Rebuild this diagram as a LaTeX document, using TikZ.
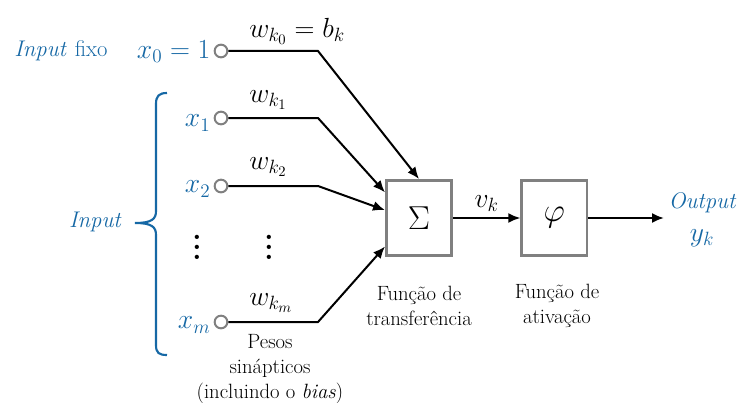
\documentclass[tikz,border=0pt]{standalone}
\usepackage{fontspec}
\usetikzlibrary{positioning,arrows.meta}
\definecolor{inblue}{RGB}{22,104,165}
\definecolor{boxgray}{RGB}{128,128,128}
\newcommand{\tallvdots}{\vbox{\baselineskip=7.5pt\lineskiplimit=0pt\hbox{.}\hbox{.}\hbox{.}}}

\begin{document}
\begin{tikzpicture}[
    x=0.75pt, y=-0.75pt,
    box/.style={draw=boxgray, line width=2pt, minimum width=49pt, minimum height=56.5pt,
                inner sep=0pt, font=\fontsize{26}{28}\selectfont},
    inpin/.style={circle, draw=boxgray, line width=1.5pt, fill=white, minimum size=9.5pt, inner sep=0pt},
    wire/.style={line width=1.5pt},
    ar/.style={wire, -{Latex[length=9pt,width=7.5pt]}},
    xlbl/.style={text=inblue, anchor=east, inner sep=1pt, font=\fontsize{21}{24}\selectfont},
    wlbl/.style={anchor=west, inner sep=0pt, font=\fontsize{21}{24}\selectfont},
    note/.style={align=center, inner sep=0pt, font=\fontsize{15.5}{18.5}\selectfont},
    bluetxt/.style={text=inblue, inner sep=0pt, font=\fontsize{17}{20}\selectfont},
    dotsym/.style={inner sep=0pt, font=\fontsize{22}{22}\bfseries},
]
\useasboundingbox (0,0) rectangle (739,403);

% Processing blocks.
\node[box]                      (sum) at (419,218) {$\Sigma$};
\node[box, right=50.5pt of sum] (phi)              {$\varphi$};
\coordinate (out) at (664,218);

% Inputs.
\node[inpin] (in0) at (221,51)  {};
\node[inpin] (in1) at (221,118) {};
\node[inpin] (in2) at (221,186) {};
\node[inpin] (inm) at (221,322) {};
\coordinate (k0) at (318,51);
\coordinate (k1) at (318,118);
\coordinate (k2) at (318,186);
\coordinate (km) at (318,322);

\node[xlbl] (x0lbl) at (212,52)  {$x_0 = 1$};
\node[xlbl] (x1lbl) at (212,123) {$x_1$};
\node[xlbl] (x2lbl) at (212,189) {$x_2$};
\node[xlbl] (xmlbl) at (212,325) {$x_m$};
\node[bluetxt] (fixo) at (61,51) {\itshape Input\/ \upshape fixo};
\node[bluetxt] (inp)  at (95,222) {\itshape Input};

% Weights.
\node[wlbl] (w0) at (249,31)  {$w_{k_0} = b_k$};
\node[wlbl] (w1) at (249,100) {$w_{k_1}$};
\node[wlbl] (w2) at (249,167) {$w_{k_2}$};
\node[wlbl] (wm) at (249,303) {$w_{k_m}$};
\node[dotsym] (dx) at (197,247) {\tallvdots};
\node[dotsym] (dw) at (269,247) {\tallvdots};

% Brace over the inputs.
\draw[inblue, line width=1.6pt]
  (167,93) .. controls (159,93) and (156,96) .. (156,104) -- (156,211)
  .. controls (156,219) and (152,223) .. (135,223)
  .. controls (152,223) and (156,227) .. (156,235) -- (156,345)
  .. controls (156,353) and (159,355) .. (167,355);

% Connections.
\draw[ar] (in0) -- (k0) -- (sum.north);
\draw[ar] (in1) -- (k1) -- (sum.143);
\draw[ar] (in2) -- (k2) -- (sum.167);
\draw[ar] (inm) -- (km) -- (sum.220);
\draw[ar] (sum) -- node[above=1pt, font=\fontsize{21}{24}\selectfont]{$v_k$} (phi);
\draw[ar] (phi) -- (out);

% Output.
\node[bluetxt] (outlbl) at (702,203) {\itshape Output};
\node[text=inblue, font=\fontsize{22}{24}\selectfont] (yk) at (702,238) {$y_k$};

% Captions.
\node[note] (sumcap) at (419,306) {Função de\\transferência};
\node[note] (phicap) at (557,306) {Função de\\ativação};
\node[note] (wcap)   at (270,369) {Pesos\\sinápticos\\(incluindo o \emph{bias})};
\end{tikzpicture}
\end{document}
